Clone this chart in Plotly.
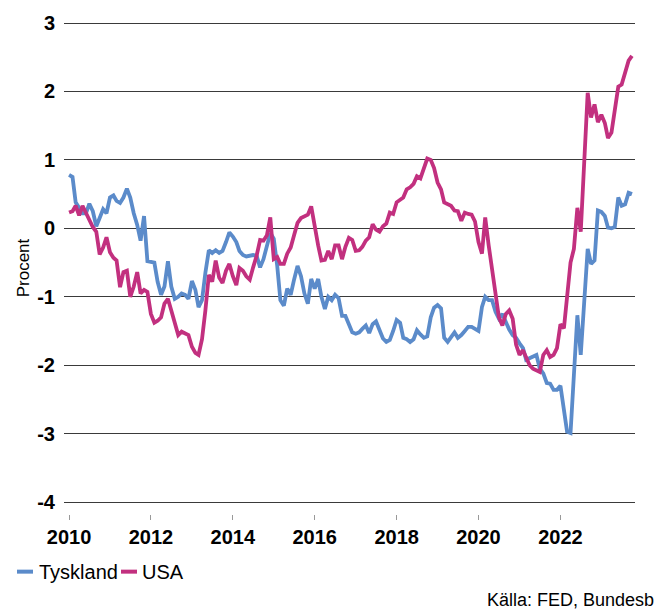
import plotly.graph_objects as go
import pandas as pd

months = pd.date_range("2010-01-01", periods=166, freq="MS")

tyskland = [
    0.78, 0.75, 0.38, 0.30, 0.22, 0.22, 0.36, 0.25, 0.03, 0.15, 0.28, 0.22,
    0.45, 0.48, 0.40, 0.37, 0.45, 0.58, 0.45, 0.22, 0.05, -0.18, 0.18, -0.48,
    -0.49, -0.50, -0.78, -0.97, -0.85, -0.48, -0.85, -1.03, -1.00, -0.95, -0.97, -1.03,
    -0.77, -0.90, -1.15, -1.05, -0.65, -0.32, -0.36, -0.32, -0.36, -0.33, -0.20, -0.06,
    -0.12, -0.20, -0.33, -0.39, -0.41, -0.40, -0.39, -0.40, -0.57, -0.45, -0.25, -0.07,
    -0.15, -0.55, -1.05, -1.13, -0.88, -0.97, -0.75, -0.55, -0.70, -0.95, -1.10, -0.74,
    -0.88, -0.74, -1.00, -1.18, -1.00, -1.05, -0.97, -1.02, -1.28, -1.28, -1.40, -1.52,
    -1.54, -1.52, -1.47, -1.42, -1.53, -1.40, -1.36, -1.50, -1.61, -1.66, -1.63, -1.50,
    -1.34, -1.38, -1.60, -1.62, -1.66, -1.62, -1.49, -1.55, -1.60, -1.58, -1.30, -1.16,
    -1.12, -1.17, -1.60, -1.66, -1.58, -1.52, -1.60, -1.56, -1.50, -1.44, -1.44, -1.47,
    -1.50, -1.15, -1.00, -1.05, -1.05, -1.22, -1.32, -1.25, -1.38, -1.48, -1.56, -1.60,
    -1.68, -1.75, -1.92, -1.90, -1.88, -1.85, -2.05, -2.12, -2.26, -2.27, -2.36, -2.36,
    -2.30, -2.65, -2.97, -2.99, -2.10, -1.27, -1.85, -1.00, -0.30, -0.52, -0.47, 0.26,
    0.24, 0.18, 0.01, 0.00, 0.02, 0.45, 0.33, 0.35, 0.52, 0.50,
]

usa = [
    0.23, 0.25, 0.33, 0.19, 0.33, 0.22, 0.13, 0.02, -0.05, -0.38, -0.28, -0.13,
    -0.35, -0.43, -0.47, -0.86, -0.64, -0.62, -1.00, -0.85, -0.64, -0.95, -0.90, -0.93,
    -1.25, -1.38, -1.35, -1.30, -1.10, -1.03, -1.20, -1.40, -1.56, -1.51, -1.54, -1.56,
    -1.73, -1.82, -1.85, -1.62, -1.20, -0.68, -0.78, -0.47, -0.72, -0.80, -0.62, -0.52,
    -0.70, -0.83, -0.58, -0.62, -0.70, -0.75, -0.57, -0.40, -0.17, -0.18, -0.10, 0.16,
    -0.45, -0.42, -0.52, -0.52, -0.37, -0.28, -0.10, 0.08, 0.15, 0.18, 0.20, 0.32,
    0.00, -0.25, -0.47, -0.46, -0.33, -0.45, -0.25, -0.25, -0.45, -0.27, -0.14, -0.17,
    -0.33, -0.32, -0.27, -0.18, -0.13, 0.06, -0.02, -0.05, 0.03, 0.07, 0.23, 0.21,
    0.38, 0.42, 0.45, 0.57, 0.60, 0.65, 0.76, 0.73, 0.88, 1.02, 1.00, 0.88,
    0.67, 0.57, 0.38, 0.36, 0.33, 0.26, 0.25, 0.11, 0.23, 0.21, 0.20, 0.10,
    -0.20, -0.37, 0.16, -0.25, -0.60, -1.00, -1.30, -1.42, -1.25, -1.20, -1.32, -1.70,
    -1.85, -1.78, -1.90, -2.00, -2.05, -2.08, -2.10, -1.85, -1.78, -1.88, -1.85, -1.75,
    -1.40, -1.46, -0.95, -0.50, -0.30, 0.30, -0.05, 1.00, 1.98, 1.62, 1.81, 1.55,
    1.66, 1.54, 1.32, 1.40, 1.69, 2.07, 2.10, 2.30, 2.45, 2.52,
]

series_names = ["Tyskland", "USA"]
series_colors = ["#5B8BCA", "#C2307F"]
x_tick_years = [2010, 2012, 2014, 2016, 2018, 2020, 2022]
y_ticks = [3, 2, 1, 0, -1, -2, -3, -4]

bold = "Liberation Sans, Arial, sans-serif"
regular = "Liberation Sans, Arial, sans-serif"

fig = go.Figure()
for name, vals, col in zip(series_names, [tyskland, usa], series_colors):
    fig.add_trace(go.Scatter(x=months, y=vals, mode="lines", name=name,
                             line=dict(color=col, width=3.8), showlegend=False))

W, H = 666, 613
ml, mr, mt, mb = 64, 31, 19, 99
pw = W - ml - mr
ph = H - mt - mb

fig.update_layout(
    width=W, height=H,
    margin=dict(l=ml, r=mr, t=mt, b=mb),
    plot_bgcolor="white", paper_bgcolor="white",
    xaxis=dict(
        range=["2009-11-17", "2023-10-28"],
        tickvals=[pd.Timestamp(f"{y}-01-01") for y in x_tick_years],
        ticktext=[str(y) for y in x_tick_years],
        showgrid=False, zeroline=False, showline=False,
        ticks="outside", ticklen=5, tickwidth=1, tickcolor="#999999",
        ticklabelstandoff=0,
        tickfont=dict(family=bold, size=20, color="black", weight="bold"),
    ),
    yaxis=dict(
        range=[-4.174, 3.015],
        tickvals=y_ticks,
        ticktext=[str(v) for v in y_ticks],
        showgrid=True, gridcolor="#3a3a3a", gridwidth=1,
        zeroline=False, showline=False,
        ticks="outside", ticklen=4, tickcolor="rgba(0,0,0,0)",
        tickfont=dict(family=bold, size=20, color="black", weight="bold"),
        title=dict(text="Procent", font=dict(family=regular, size=17, color="black"),
                   standoff=3),
    ),
)


def px_to_paper_x(px):
    return (px - ml) / pw


def py_to_paper_y(py):
    return (H - mb - py) / ph


legend_items = [(17, 33, 37), (121, 137, 140)]
for (x0, x1, xt), name, col in zip(legend_items, series_names, series_colors):
    fig.add_shape(type="line", xref="paper", yref="paper",
                  x0=px_to_paper_x(x0), x1=px_to_paper_x(x1),
                  y0=py_to_paper_y(572), y1=py_to_paper_y(572),
                  line=dict(color=col, width=4))
    fig.add_annotation(xref="paper", yref="paper", x=px_to_paper_x(xt), y=py_to_paper_y(572),
                       text=name, showarrow=False, xanchor="left", yanchor="middle",
                       font=dict(family=regular, size=20, color="black"))

fig.add_annotation(xref="paper", yref="paper", x=px_to_paper_x(656), y=py_to_paper_y(601),
                   text="Källa: FED, Bundesb", showarrow=False, xanchor="right", yanchor="middle",
                   font=dict(family=regular, size=18, color="black"))

fig.write_html("out.html", post_script="document.body.style.margin='0px';",
               config={"displayModeBar": False})
